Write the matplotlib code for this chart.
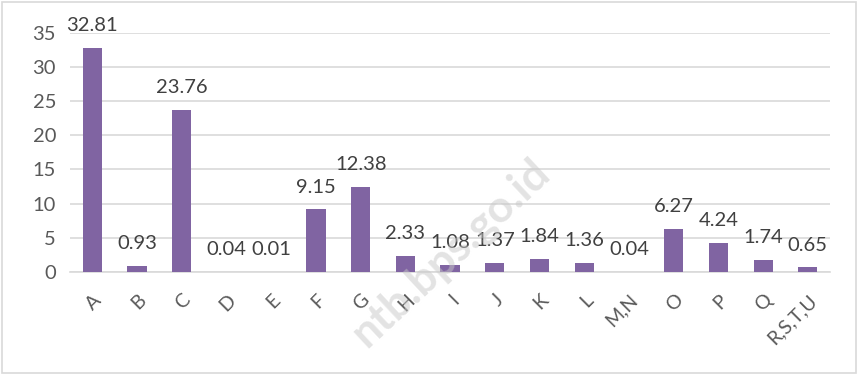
import matplotlib.pyplot as plt
from matplotlib.patches import Rectangle

# Data
categories = ['A', 'B', 'C', 'D', 'E', 'F', 'G', 'H', 'I', 'J', 'K', 'L',
              'M,N', 'O', 'P', 'Q', 'R,S,T,U']
values = [32.81, 0.93, 23.76, 0.04, 0.01, 9.15, 12.38, 2.33, 1.08, 1.37,
          1.84, 1.36, 0.04, 6.27, 4.24, 1.74, 0.65]
value_labels = ['32.81', '0.93', '23.76', '0.04', '0.01', '9.15', '12.38',
                '2.33', '1.08', '1.37', '1.84', '1.36', '0.04', '6.27',
                '4.24', '1.74', '0.65']
yticks = [0, 5, 10, 15, 20, 25, 30, 35]

plt.rcParams['font.family'] = ['Lato', 'DejaVu Sans']
text_color = '#595959'

fig = plt.figure(figsize=(8.58, 3.74), dpi=100)
ax = fig.add_axes([0.0816, 0.273, 0.886, 0.639])

x = list(range(len(categories)))
bars = ax.bar(x, values, width=0.43, color='#8064A2', zorder=3)

# Data labels
for xi, v, lab in zip(x, values, value_labels):
    ax.annotate(lab, (xi, v), xytext=(0, 10), textcoords='offset points',
                ha='center', va='bottom', fontsize=14.5, color='#404040')

ax.set_xlim(-0.5, len(categories) - 0.5)
ax.set_ylim(0, 35)
ax.set_yticks(yticks)
ax.set_yticklabels([str(t) for t in yticks], fontsize=14.5, color=text_color)
ax.set_xticks(x)
ax.set_xticklabels(categories, rotation=45, ha='right', rotation_mode='anchor',
                   fontsize=14, color=text_color)
ax.tick_params(axis='both', length=0)
ax.tick_params(axis='y', pad=10)
ax.tick_params(axis='x', pad=14)
ax.grid(axis='y', color='#D9D9D9', linewidth=1.2, zorder=0)
for s in ['top', 'right', 'left']:
    ax.spines[s].set_visible(False)
ax.spines['bottom'].set_color('#D9D9D9')
ax.spines['bottom'].set_linewidth(1.2)

# Watermark
fig.text(0.525, 0.325, 'ntb.bps.go.id', rotation=43, fontsize=32,
         fontweight='bold', color='#C8C8C8', alpha=0.5, ha='center',
         va='center', zorder=0)

# Figure border
fig.patches.append(Rectangle((0.002, 0.004), 0.996, 0.99, transform=fig.transFigure,
                             fill=False, edgecolor='#D9D9D9', linewidth=1.2))

fig.savefig('out.png', dpi=100)
